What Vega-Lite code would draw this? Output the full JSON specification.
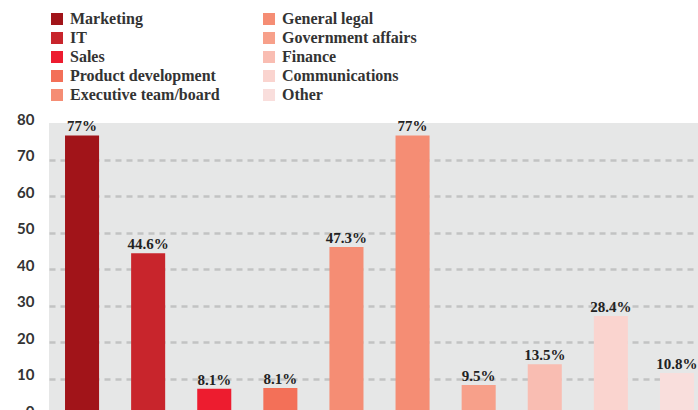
{
  "$schema": "https://vega.github.io/schema/vega-lite/v6.json",
  "width": 649,
  "height": 292,
  "autosize": {"type": "none"},
  "padding": {"left": 49, "top": 123, "right": 0, "bottom": 0},
  "background": "white",
  "config": {
    "view": {"fill": "#E6E7E7", "stroke": null},
    "font": "Liberation Serif"
  },
  "data": {
    "values": [
      {"area": "Marketing", "value": 76.6, "label": "77%"},
      {"area": "IT", "value": 44.3, "label": "44.6%"},
      {"area": "Sales", "value": 7.2, "label": "8.1%"},
      {"area": "Product development", "value": 7.4, "label": "8.1%"},
      {"area": "Executive team/board", "value": 46.0, "label": "47.3%"},
      {"area": "General legal", "value": 76.6, "label": "77%"},
      {"area": "Government affairs", "value": 8.2, "label": "9.5%"},
      {"area": "Finance", "value": 13.9, "label": "13.5%"},
      {"area": "Communications", "value": 27.1, "label": "28.4%"},
      {"area": "Other", "value": 11.5, "label": "10.8%"}
    ]
  },
  "encoding": {
    "x": {
      "field": "area",
      "type": "nominal",
      "sort": ["Marketing", "IT", "Sales", "Product development", "Executive team/board", "General legal", "Government affairs", "Finance", "Communications", "Other"],
      "scale": {"paddingInner": 0.485, "paddingOuter": 0.1515, "align": 0.8},
      "axis": null
    },
    "y": {
      "field": "value",
      "type": "quantitative",
      "scale": {"domain": [0, 80], "nice": false},
      "axis": {
        "title": null,
        "values": [0, 10, 20, 30, 40, 50, 60, 70, 80],
        "domain": false,
        "ticks": false,
        "labelFont": "Lato",
        "labelFontWeight": "bold",
        "labelFontSize": 15,
        "labelColor": "#333333",
        "labelPadding": 15,
        "labelOffset": -4,
        "gridColor": "#C2C3C3",
        "gridWidth": 2.5,
        "gridDash": [6, 5],
        "gridOpacity": {"condition": {"test": "datum.value === 80 || datum.value === 0", "value": 0}, "value": 1}
      }
    }
  },
  "layer": [
    {
      "mark": {"type": "bar"},
      "encoding": {
        "color": {
          "field": "area",
          "type": "nominal",
          "scale": {
            "domain": ["Marketing", "IT", "Sales", "Product development", "Executive team/board", "General legal", "Government affairs", "Finance", "Communications", "Other"],
            "range": ["#A11419", "#C8252C", "#ED1C2F", "#F37058", "#F58D74", "#F58D74", "#F7A08A", "#F9BDB2", "#FAD4CF", "#F9DEDC"]
          },
          "legend": {
            "title": null,
            "orient": "none",
            "legendX": 0,
            "legendY": -112,
            "columns": 2,
            "columnPadding": 41,
            "rowPadding": 3,
            "padding": 0,
            "symbolType": "square",
            "symbolSize": 144,
            "symbolStrokeWidth": 0,
            "symbolOpacity": 1,
            "labelFont": "Liberation Serif",
            "labelFontWeight": "bold",
            "labelFontSize": 16,
            "labelColor": "#333333",
            "labelOffset": 5,
            "labelLimit": 300
          }
        }
      }
    },
    {
      "mark": {"type": "text", "baseline": "alphabetic", "dy": -4, "font": "Liberation Serif", "fontWeight": "bold", "fontSize": 15, "color": "#222222"},
      "encoding": {
        "text": {"field": "label", "type": "nominal"}
      }
    }
  ]
}
